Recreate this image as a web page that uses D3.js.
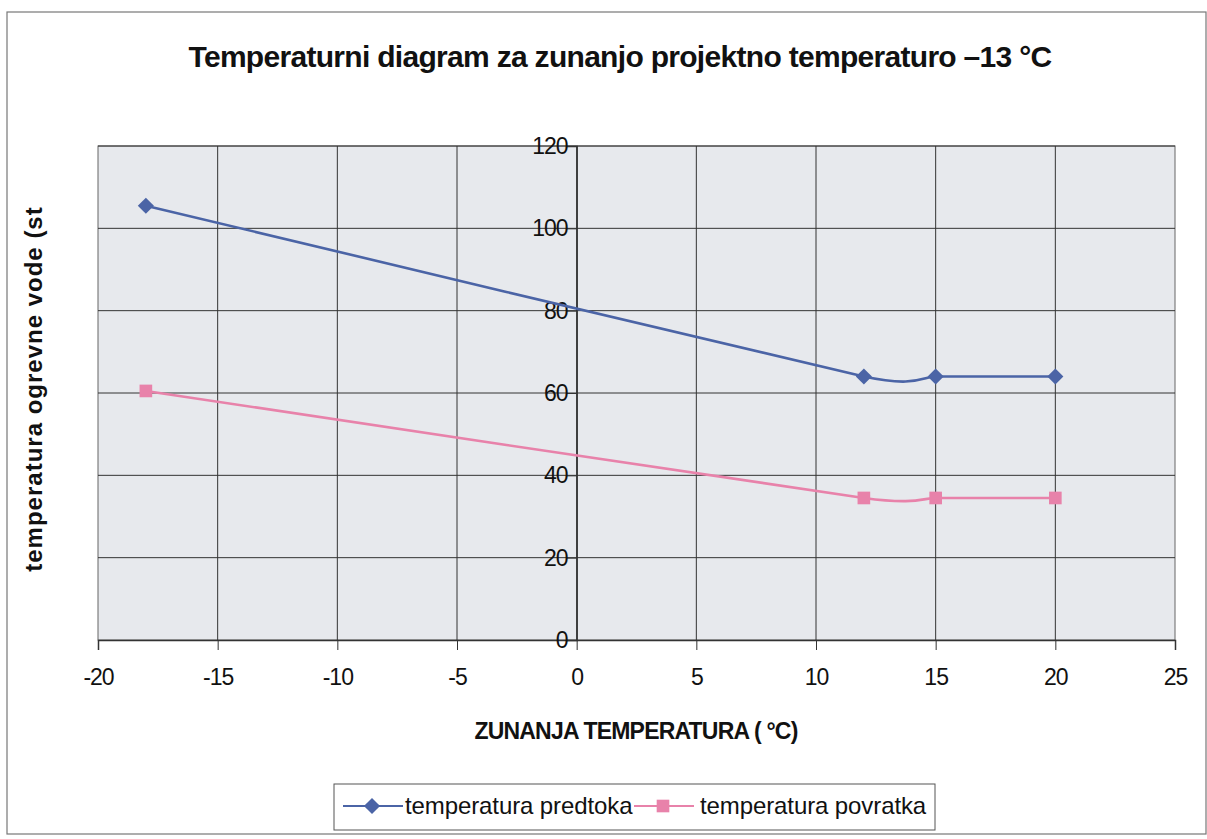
<!DOCTYPE html>
<html>
<head>
<meta charset="utf-8">
<script src="https://cdn.jsdelivr.net/npm/d3@7"></script>
<style>
body { margin: 0; background: #fff; }
text { font-family: "Liberation Sans", Arial, sans-serif; }
</style>
</head>
<body>
<div class="canvas"></div>
<script>
var W = 1207, H = 839;

// data
var x_ticks = [-20, -15, -10, -5, 0, 5, 10, 15, 20, 25];
var y_ticks = [0, 20, 40, 60, 80, 100, 120];
var outdoor = [-18, 12, 15, 20];
var supply = [105.5, 64, 64, 64];
var ret = [60.5, 34.5, 34.5, 34.5];
var series_names = ['temperatura predtoka', 'temperatura povratka'];

var blue = '#4b64a6', pink = '#e882aa';

var svg = d3.select('div.canvas').append('svg')
	.attr('width', W).attr('height', H);

// outer chart frame
svg.append('rect')
	.attr('x', 7).attr('y', 12).attr('width', W - 8).attr('height', 822)
	.attr('fill', '#fff').attr('stroke', '#777').attr('stroke-width', 1.2);

var pl = 98, pr = 1175, pt = 146, pb = 640;

var x = d3.scaleLinear().domain([-20, 25]).range([pl, pr]);
var y = d3.scaleLinear().domain([0, 120]).range([pb, pt]);

svg.append('rect')
	.attr('x', pl).attr('y', pt).attr('width', pr - pl).attr('height', pb - pt)
	.attr('fill', '#e7e9ed').attr('stroke', '#666').attr('stroke-width', 1);

// grid
svg.append('g').selectAll('line').data(x_ticks.slice(1, -1)).enter().append('line')
	.attr('x1', function(d) { return x(d); }).attr('x2', function(d) { return x(d); })
	.attr('y1', pt).attr('y2', pb)
	.attr('stroke', '#333').attr('stroke-width', 1);
svg.append('g').selectAll('line').data(y_ticks.slice(1)).enter().append('line')
	.attr('x1', pl).attr('x2', pr)
	.attr('y1', function(d) { return y(d); }).attr('y2', function(d) { return y(d); })
	.attr('stroke', '#333').attr('stroke-width', 1);

// x axis along y = 0
var xAxis = d3.axisBottom(x).tickValues(x_ticks).tickSize(10).tickFormat(d3.format('d'));
var gx = svg.append('g').attr('transform', 'translate(0,' + y(0) + ')').call(xAxis);
gx.select('.domain').attr('stroke', '#333').attr('stroke-width', 1.5);
gx.selectAll('.tick line').attr('stroke', '#333');
gx.selectAll('.tick text').attr('font-size', 23).attr('fill', '#111').attr('dy', 32)
	.attr('letter-spacing', -1)
	.attr('font-family', '"Liberation Sans", Arial, sans-serif')
	.text(function(d) { return d < 0 ? '-' + (-d) : d; });

// y axis along x = 0
var yAxis = d3.axisLeft(y).tickValues(y_ticks).tickSize(10);
var gy = svg.append('g').attr('transform', 'translate(' + x(0) + ',0)').call(yAxis);
gy.select('.domain').attr('stroke', '#333').attr('stroke-width', 1.5);
gy.selectAll('.tick line').attr('stroke', '#333');
gy.selectAll('.tick text').attr('font-size', 23).attr('fill', '#111').attr('x', -9)
	.attr('letter-spacing', -1)
	.attr('font-family', '"Liberation Sans", Arial, sans-serif');

// lines
var line = d3.line()
	.x(function(d) { return x(d[0]); })
	.y(function(d) { return y(d[1]); })
	.curve(d3.curveCardinal.tension(0.6));

var s1 = d3.zip(outdoor, supply), s2 = d3.zip(outdoor, ret);

svg.append('path').attr('d', line(s1)).attr('fill', 'none')
	.attr('stroke', blue).attr('stroke-width', 2.6);
svg.append('path').attr('d', line(s2)).attr('fill', 'none')
	.attr('stroke', pink).attr('stroke-width', 2.6);

var diamond = d3.symbol().type(d3.symbolSquare).size(130);
var square = d3.symbol().type(d3.symbolSquare).size(160);

svg.append('g').selectAll('path').data(s1).enter().append('path')
	.attr('d', diamond)
	.attr('transform', function(d) { return 'translate(' + x(d[0]) + ',' + y(d[1]) + ') rotate(45)'; })
	.attr('fill', blue);
svg.append('g').selectAll('path').data(s2).enter().append('path')
	.attr('d', square)
	.attr('transform', function(d) { return 'translate(' + x(d[0]) + ',' + y(d[1]) + ')'; })
	.attr('fill', pink);

// texts
svg.append('text').attr('x', 620).attr('y', 67).attr('text-anchor', 'middle')
	.attr('font-size', 30).attr('font-weight', 'bold').attr('fill', '#111')
	.attr('letter-spacing', -0.7)
	.text('Temperaturni diagram za zunanjo projektno temperaturo \u201313 \u00b0C');

svg.append('text').attr('x', 636).attr('y', 739).attr('text-anchor', 'middle')
	.attr('font-size', 23).attr('font-weight', 'bold').attr('fill', '#111')
	.attr('letter-spacing', -0.8)
	.text('ZUNANJA TEMPERATURA ( \u00b0C)');

svg.append('text').attr('transform', 'translate(42,389) rotate(-90)').attr('text-anchor', 'middle')
	.attr('font-size', 24).attr('font-weight', 'bold').attr('fill', '#111')
	.attr('letter-spacing', 1)
	.text('temperatura ogrevne vode  (st');

// legend
var lg = svg.append('g');
lg.append('rect').attr('x', 334).attr('y', 784).attr('width', 601).attr('height', 46)
	.attr('fill', '#fff').attr('stroke', '#555').attr('stroke-width', 1);
var items = [{name: series_names[0], col: blue, sym: diamond, rot: 45, x: 343, tx: 405},
	{name: series_names[1], col: pink, sym: square, rot: 0, x: 634, tx: 700}];
items.forEach(function(it) {
	lg.append('line').attr('x1', it.x).attr('x2', it.x + 60).attr('y1', 806).attr('y2', 806)
		.attr('stroke', it.col).attr('stroke-width', 2);
	lg.append('path').attr('d', it.sym).attr('fill', it.col)
		.attr('transform', 'translate(' + (it.x + 29) + ',806) rotate(' + it.rot + ')');
	lg.append('text').attr('x', it.tx).attr('y', 814).attr('font-size', 24).attr('fill', '#111')
		.attr('letter-spacing', -0.1).text(it.name);
});
</script>
</body>
</html>
